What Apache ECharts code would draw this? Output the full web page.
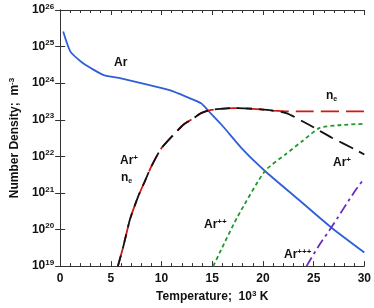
<!DOCTYPE html>
<html>
<head>
<meta charset="utf-8">
<script src="https://cdn.jsdelivr.net/npm/echarts@6/dist/echarts.min.js"></script>
<style>
  html, body { margin: 0; padding: 0; background: #fff; }
  #chart { width: 374px; height: 308px; }
</style>
</head>
<body>
<div id="chart"></div>
<script>
// temperature in 10^3 K, densities as log10(m^-3)
var arT   = [0.3, 1.0, 2.1, 3.1, 4.3, 6.0, 8.5, 10.8, 12.0, 12.7, 13.9, 14.6, 15.9, 18.1, 20.2, 23.5, 26.8, 30]
var arLog = [25.41, 24.87, 24.58, 24.4, 24.22, 24.13, 23.97, 23.81, 23.68, 23.6, 23.45, 23.25, 22.87, 22.16, 21.6, 20.82, 20.04, 19.37]

var neT   = [5.7, 6.25, 6.89, 7.69, 8.34, 8.97, 9.93, 11.22, 12.18, 13.2, 13.9, 14.9, 17.1, 19.0, 21.0, 22.5, 30]
var neLog = [19.0, 19.56, 20.28, 20.9, 21.31, 21.71, 22.2, 22.6, 22.87, 23.05, 23.18, 23.27, 23.32, 23.3, 23.25, 23.23, 23.23]

var ar1T   = [5.7, 6.25, 6.89, 7.69, 8.34, 8.97, 9.93, 11.22, 12.18, 13.2, 13.9, 14.9, 17.1, 19.0, 20.4, 22.3, 24.5, 26.8, 29.0, 30]
var ar1Log = [19.0, 19.56, 20.28, 20.9, 21.31, 21.71, 22.2, 22.6, 22.87, 23.05, 23.18, 23.27, 23.32, 23.3, 23.27, 23.18, 22.87, 22.51, 22.2, 22.05]

var ar2T   = [15.1, 15.9, 17.5, 20.2, 22.3, 23.9, 25.6, 27.4, 30]
var ar2Log = [19.0, 19.46, 20.35, 21.6, 22.07, 22.42, 22.78, 22.85, 22.89]

var ar3T   = [24.3, 25.5, 26.8, 29.0, 30]
var ar3Log = [19.0, 19.55, 20.08, 21.02, 21.4]

var xTicks = [0, 5, 10, 15, 20, 25, 30]

function pairs(xs, ys) {
    return xs.map(function (x, i) { return [x, ys[i]] })
}

var chart = echarts.init(document.getElementById('chart'))
var font = 'Liberation Sans, Arial, sans-serif'

var option = {
    animation: false,
    grid: { left: 55, right: 7, top: 10, bottom: 37 },
    xAxis: [{
        type: 'value', min: xTicks[0], max: xTicks[xTicks.length - 1], interval: 5,
        name: '{a|Temperature;  10}{s|3}{a| K}',
        nameLocation: 'middle', nameGap: 22,
        nameTextStyle: {
            rich: {
                a: { fontFamily: font, fontWeight: 'bold', fontSize: 12, color: '#111' },
                s: { fontFamily: font, fontWeight: 'bold', fontSize: 8, color: '#111', verticalAlign: 'top', padding: [0, 0, 6, 0] }
            }
        },
        axisLine: { lineStyle: { color: '#333', width: 1 } },
        axisTick: { inside: true, length: 5, lineStyle: { color: '#333' } },
        minorTick: { show: true, splitNumber: 5, length: 3, lineStyle: { color: '#333' } },
        axisLabel: { fontFamily: font, fontWeight: 'bold', fontSize: 12, color: '#111', margin: 7 },
        splitLine: { show: false }
    }, {
        type: 'value', position: 'top', min: 0, max: 30, interval: 5,
        axisLine: { lineStyle: { color: '#333', width: 1 } },
        axisTick: { inside: true, length: 5, lineStyle: { color: '#333' } },
        minorTick: { show: true, splitNumber: 5, length: 3, lineStyle: { color: '#333' } },
        axisLabel: { show: false },
        splitLine: { show: false }
    }],
    yAxis: [{
        type: 'value', min: 19, max: 26, interval: 1,
        name: '{a|Number Density;  m}{s|-3}',
        nameLocation: 'middle', nameGap: 38, nameRotate: 90,
        nameTextStyle: {
            rich: {
                a: { fontFamily: font, fontWeight: 'bold', fontSize: 12, color: '#111' },
                s: { fontFamily: font, fontWeight: 'bold', fontSize: 8, color: '#111', padding: [0, 0, 6, 0] }
            }
        },
        axisLine: { lineStyle: { color: '#333', width: 1 } },
        axisTick: { inside: true, length: 5, lineStyle: { color: '#333' } },
        axisLabel: {
            margin: 6,
            formatter: function (v) { return '{a|10}{s|' + v + '}' },
            rich: {
                a: { fontFamily: font, fontWeight: 'bold', fontSize: 12, color: '#111' },
                s: { fontFamily: font, fontWeight: 'bold', fontSize: 8, color: '#111', padding: [0, 0, 7, 0] }
            }
        },
        splitLine: { show: false }
    }, {
        type: 'value', position: 'right', min: 19, max: 26, interval: 1,
        axisLine: { show: true, lineStyle: { color: '#333', width: 1 } },
        axisTick: { show: true, inside: true, length: 5, lineStyle: { color: '#333' } },
        axisLabel: { show: false },
        splitLine: { show: false }
    }],
    series: [{
        name: 'Ar', type: 'line', data: pairs(arT, arLog), symbol: 'none', smooth: 0.2,
        lineStyle: { color: '#2f5fd8', width: 1.8 }
    }, {
        name: 'ne', type: 'line', data: pairs(neT, neLog), symbol: 'none', smooth: 0.2,
        lineStyle: { color: '#cc1a1a', width: 1.8, type: [18, 7] }
    }, {
        name: 'Ar+', type: 'line', data: pairs(ar1T, ar1Log), symbol: 'none', smooth: 0.2,
        lineStyle: { color: '#111', width: 1.8, type: [15, 7], dashOffset: 4 }
    }, {
        name: 'Ar++', type: 'line', data: pairs(ar2T, ar2Log), symbol: 'none', smooth: 0.2,
        lineStyle: { color: '#1e9a2a', width: 1.8, type: [4, 3] }
    }, {
        name: 'Ar+++', type: 'line', data: pairs(ar3T, ar3Log), symbol: 'none', smooth: 0.2,
        lineStyle: { color: '#6a2bc4', width: 1.8, type: [10, 4, 3, 4] }
    }],
    graphic: [
        { type: 'text', left: 114, top: 57, style: { text: 'Ar', font: 'bold 12px ' + font, fill: '#111' } },
        { type: 'text', left: 120, top: 154, style: { text: '{a|Ar}{s|+}', rich: { a: { font: 'bold 12px ' + font, fill: '#111' }, s: { font: 'bold 8px ' + font, fill: '#111', padding: [0, 0, 5, 0] } } } },
        { type: 'text', left: 121, top: 172, style: { text: '{a|n}{s|e}', rich: { a: { font: 'bold 12px ' + font, fill: '#111' }, s: { font: 'bold 7px ' + font, fill: '#111', padding: [6, 0, 0, 0] } } } },
        { type: 'text', left: 326, top: 90, style: { text: '{a|n}{s|e}', rich: { a: { font: 'bold 12px ' + font, fill: '#111' }, s: { font: 'bold 7px ' + font, fill: '#111', padding: [6, 0, 0, 0] } } } },
        { type: 'text', left: 333, top: 156, style: { text: '{a|Ar}{s|+}', rich: { a: { font: 'bold 12px ' + font, fill: '#111' }, s: { font: 'bold 8px ' + font, fill: '#111', padding: [0, 0, 5, 0] } } } },
        { type: 'text', left: 204, top: 218, style: { text: '{a|Ar}{s|++}', rich: { a: { font: 'bold 12px ' + font, fill: '#111' }, s: { font: 'bold 8px ' + font, fill: '#111', padding: [0, 0, 5, 0] } } } },
        { type: 'text', left: 284, top: 248, style: { text: '{a|Ar}{s|+++}', rich: { a: { font: 'bold 12px ' + font, fill: '#111' }, s: { font: 'bold 8px ' + font, fill: '#111', padding: [0, 0, 5, 0] } } } }
    ]
}

chart.setOption(option)
</script>
</body>
</html>
